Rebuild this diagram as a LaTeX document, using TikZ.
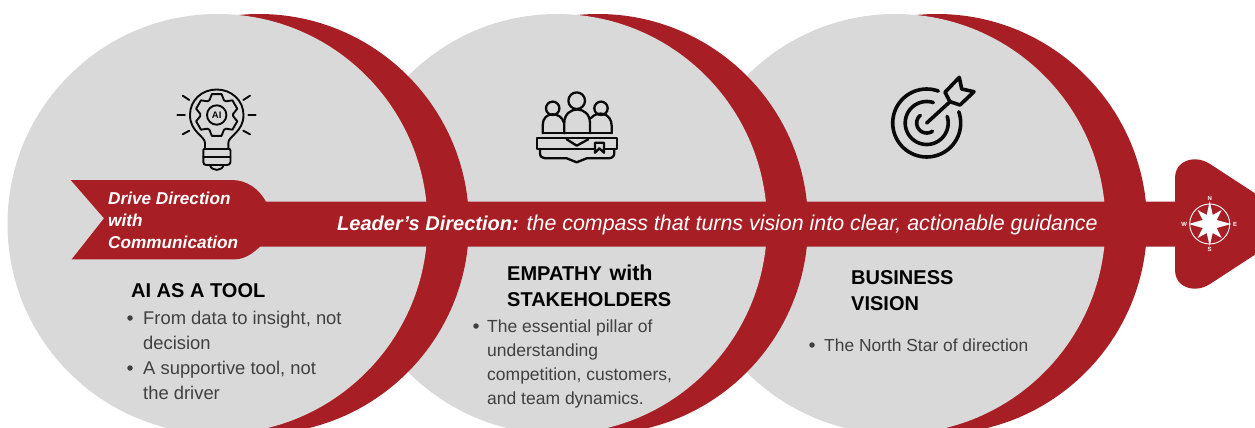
\documentclass[tikz,border=0pt]{standalone}
\usepackage{fontspec}
\setmainfont{Liberation Sans}
\definecolor{brickred}{HTML}{A71F24}
\definecolor{discgray}{HTML}{D9D9D9}
\definecolor{inkblack}{HTML}{0A0A0A}
\definecolor{bodyink}{HTML}{404040}
\tikzset{
  x=1pt,y=-1pt,
  redshape/.style={fill=brickred,draw=none},
  graydisc/.style={fill=discgray,draw=none},
  iconline/.style={draw=inkblack,line width=1.9pt,line cap=round,line join=round,fill=none},
  headtext/.style={anchor=north west,align=left,font=\fontsize{20}{26}\selectfont\bfseries,text=black,inner sep=0pt},
  bodytext/.style={anchor=north west,align=left,text=bodyink,inner sep=0pt},
  bulletdot/.style={circle,fill=bodyink,draw=none,inner sep=0pt,minimum size=5.5pt},
  flagtext/.style={anchor=north west,align=left,font=\fontsize{17.2}{22}\selectfont\bfseries\itshape,text=white,inner sep=0pt},
  compassline/.style={draw=white,line width=.9pt,fill=none},
  compassletter/.style={font=\fontsize{6}{6}\selectfont\bfseries,text=white,inner sep=0pt}
}
\begin{document}
\begin{tikzpicture}
\useasboundingbox (0,0) rectangle (1255,428);
\begin{scope}
\clip (0,0) rectangle (1255,428);
\fill[redshape] (937,224) circle (210);
\fill[graydisc] (895.5,224) circle (210);
\fill[redshape] (598,224) circle (210);
\fill[graydisc] (557,224) circle (210);
\fill[redshape] (259,224) circle (210);
\fill[graydisc] (217.5,224) circle (210);
% arrow head, clipped by the page edge
\fill[redshape] (1175,178) .. controls (1175,166) and (1184,159.3) .. (1195,159.3) .. controls (1201,159.3) and (1206,161.5) .. (1210,164)
  -- (1299,222) -- (1299,226) -- (1210,284) .. controls (1206,286.5) and (1201,288.7) .. (1195,288.7) .. controls (1184,288.7) and (1175,282) .. (1175,270) -- cycle;
\end{scope}
% bar + flag
\fill[redshape] (70.7,180) -- (231.7,180) .. controls (247,180) and (259,189) .. (266,201.7)
  -- (1180,201.7) -- (1180,246.7) -- (260,246.7) .. controls (253,253) and (245,259.3) .. (235,259.3)
  -- (71.7,259.3) -- (104,218.3) -- cycle;
% texts
\node[flagtext] (flag) at (108,192) {Drive Direction\\with\\Communication};
\node[anchor=west,inner sep=0pt,text=white,font=\fontsize{21.4}{24}\selectfont\itshape] (lead) at (337,225) {{\fontsize{20}{24}\selectfont\bfseries Leader’s Direction:} the compass that turns vision into clear, actionable guidance};
\node[headtext] (h1) at (131,283) {AI AS A TOOL};
\node[bulletdot] (b1) at (130,318) {};
\node[bodytext,font=\fontsize{18.4}{25}\selectfont] (t1) at (143,311) {From data to insight, not\\decision};
\node[bulletdot] (b2) at (130,368) {};
\node[bodytext,font=\fontsize{18.4}{25}\selectfont] (t2) at (143,361) {A supportive tool, not\\the driver};
\node[headtext] (h2) at (507,265) {EMPATHY\hspace{2pt} {\fontsize{21.5}{26}\selectfont with}\\STAKEHOLDERS};
\node[bulletdot] (b3) at (476,326) {};
\node[bodytext,font=\fontsize{17.5}{24}\selectfont] (t3) at (487,320) {The essential pillar of\\understanding\\competition, customers,\\and team dynamics.};
\node[headtext] (h3) at (851,270) {BUSINESS\\VISION};
\node[bulletdot] (b4) at (812,345) {};
\node[bodytext,font=\fontsize{17.4}{24}\selectfont] (t4) at (824,339) {The North Star of direction};
% bulb icon
\begin{scope}[iconline]
 \draw (205,149) -- (205,143) .. controls (205,136) and (190,132) .. (190,115) .. controls (190,100) and (202,89.5) .. (216.7,89.5) .. controls (231,89.5) and (243.5,100) .. (243.5,115) .. controls (243.5,132) and (228.3,136) .. (228.3,143) -- (228.3,149);
 \draw (204,149) -- (229.5,149) .. controls (230,149) and (230.5,150) .. (230.5,151) -- (230.5,162) .. controls (230.5,164) and (229,165) .. (227,165) -- (206.5,165) .. controls (204.5,165) and (203.3,164) .. (203.3,162) -- (203.3,151) .. controls (203.3,150) and (203.5,149) .. (204,149);
 \draw (203.3,157) -- (230.5,157);
 \draw (210,165) .. controls (211,171.5) and (222.5,171.5) .. (223.5,165);
 \draw (216.7,115) circle (9.7);
 \draw \foreach \a [count=\i] in {-90,-30,30,90,150,210} {
   \ifnum\i=1 ({216.7+16.5*cos(\a-26)},{115+16.5*sin(\a-26)}) \else -- ({216.7+16.5*cos(\a-26)},{115+16.5*sin(\a-26)}) \fi
   -- ({216.7+21.5*cos(\a-13)},{115+21.5*sin(\a-13)})
   -- ({216.7+21.5*cos(\a+13)},{115+21.5*sin(\a+13)})
   -- ({216.7+16.5*cos(\a+26)},{115+16.5*sin(\a+26)})
 } -- cycle;
 \draw (182.7,95.7) -- (189.3,100); \draw (250,95.7) -- (243.3,100);
 \draw (177.3,115) -- (185,115); \draw (248.3,115) -- (255.7,115);
 \draw (182.7,134.3) -- (189.3,130.7); \draw (250,134.3) -- (243.3,130.7);
\end{scope}
\node[inner sep=0pt,font=\fontsize{9.5}{9.5}\selectfont\bfseries,text=inkblack] (ailabel) at (216.7,115) {AI};
% people icon
\begin{scope}[iconline,line width=2.3pt]
 \draw (576.7,100.7) circle (8.3);
 \draw (552.7,108.3) circle (6.7);
 \draw (601,108.3) circle (6.7);
 \draw (542.7,133.3) -- (542.7,125) .. controls (542.7,111) and (561,111) .. (564,123);
 \draw (564.3,133.3) -- (564.3,123) .. controls (564.3,105) and (590,105) .. (590,123) -- (590,133.3);
 \draw (591,118) .. controls (598,110) and (611.7,113) .. (611.7,126) -- (611.7,133.3);
 \draw (542.7,133.3) -- (611.7,133.3);
 \draw (536.7,138.3) -- (617.3,138.3) -- (617.3,149) -- (536.7,149) -- cycle;
 \draw (566.7,139.3) -- (576.7,145.7) -- (588.3,139.3);
 \draw (540,149) -- (540,153) .. controls (540,156.5) and (542,158.3) .. (545,158.3) -- (566.7,158.3) -- (576.7,162.3) -- (586.7,158.3) -- (608.3,158.3) .. controls (612,158.3) and (614.3,156.5) .. (614.3,153) -- (614.3,149);
 \draw[fill=discgray] (595,142.7) -- (604,142.7) -- (604,152.7) -- (599.3,148.3) -- (595,152.7) -- cycle;
\end{scope}
% target icon
\begin{scope}[iconline,line width=3.6pt]
 \draw plot[domain=-379.5:-70,samples=60] ({926.7+34*cos(\x)},{123+34*sin(\x)});
 \draw plot[domain=-378:-72,samples=50] ({926.7+21.5*cos(\x)},{123+21.5*sin(\x)});
 \draw plot[domain=-305:-130,samples=30] ({926.7+10*cos(\x)},{123+10*sin(\x)});
 \draw (926.7,123) -- (950,101.7);
 \draw (950,101.7) -- (945,92.3) -- (959.3,77.3) -- (961.7,89) -- (974,91.7) -- (960,105) -- cycle;
\end{scope}
% compass
\draw[compassline] (1209.7,224) circle (20);
\fill[white] (1209.7,201) -- (1212.7,215) -- (1221.7,210) -- (1216.7,220) -- (1231,224) -- (1216.7,228) -- (1221.7,238) -- (1212.7,233) -- (1209.7,246) -- (1206.7,233) -- (1197.7,238) -- (1202.7,228) -- (1188.5,224) -- (1202.7,220) -- (1197.7,210) -- (1206.7,215) -- cycle;
\node[compassletter] (cn) at (1209.7,198.3) {N};
\node[compassletter] (cs) at (1209.7,249.5) {S};
\node[compassletter] (cw) at (1184.3,224) {W};
\node[compassletter] (ce) at (1235,224) {E};
\end{tikzpicture}
\end{document}
